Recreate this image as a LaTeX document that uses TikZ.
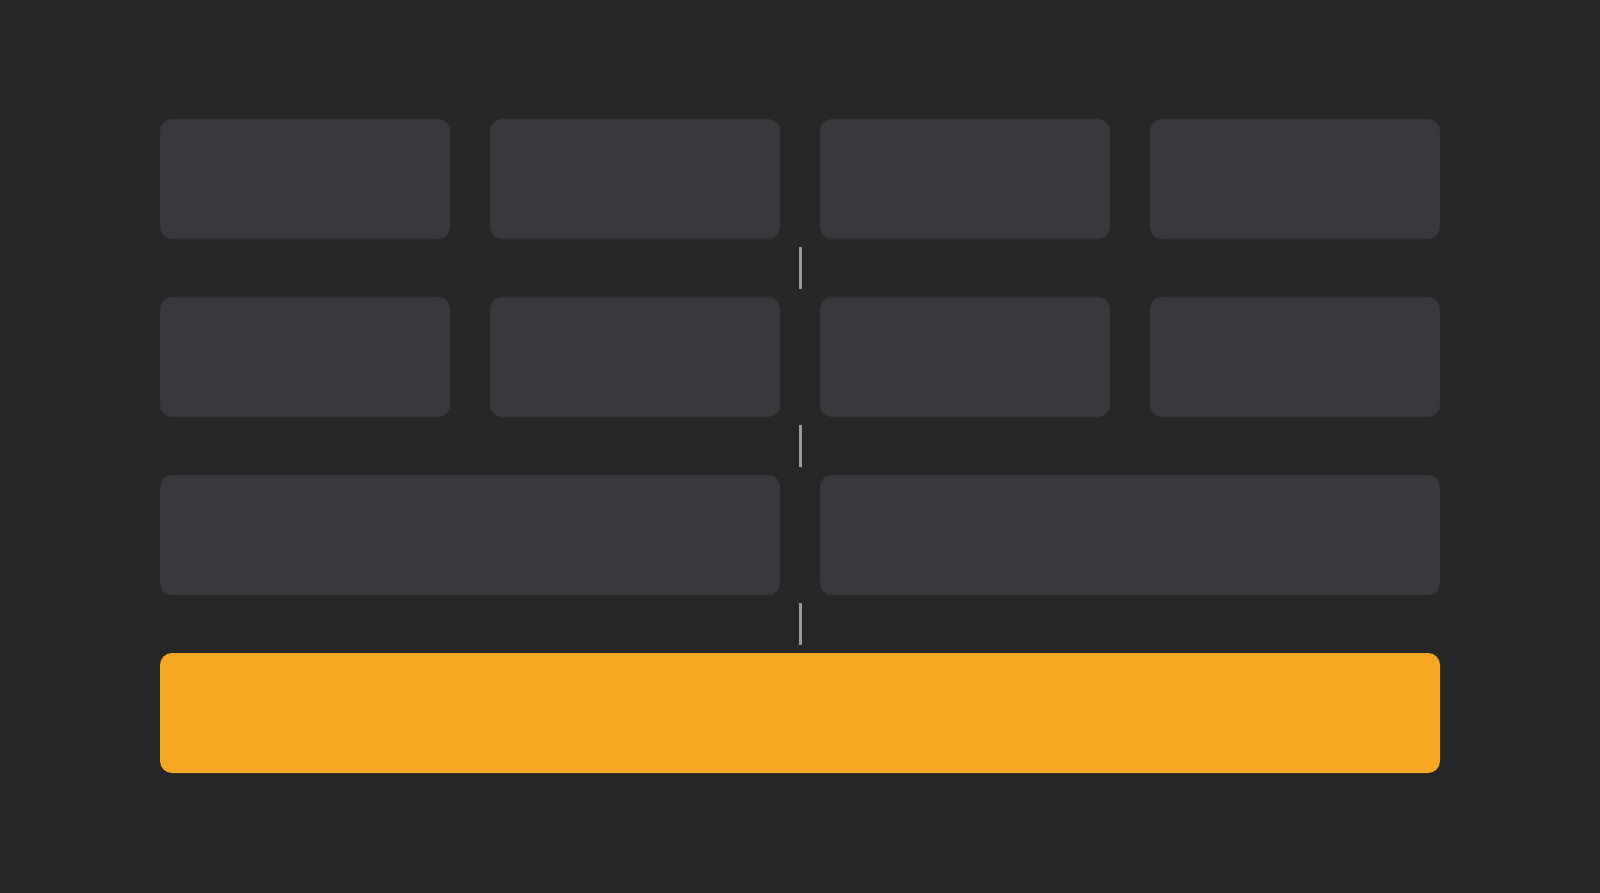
\documentclass[tikz,border=0pt]{standalone}
\definecolor{bgc}{HTML}{262628}
\definecolor{boxc}{HTML}{3A3A3E}
\definecolor{edgec}{HTML}{303033}
\definecolor{orangec}{HTML}{F5A623}
\definecolor{linkc}{HTML}{9A9A9E}
\tikzset{
  tile/.style={rectangle, rounded corners=12pt, inner sep=0pt, fill=boxc, draw=edgec, line width=0.8pt, minimum height=120pt},
  small/.style={tile, minimum width=290pt},
  wide/.style={tile, minimum width=620pt},
  base/.style={rectangle, rounded corners=12pt, inner sep=0pt, fill=orangec, minimum height=120pt, minimum width=1280pt},
  link/.style={draw=linkc, line width=3pt},
}
\begin{document}
\begin{tikzpicture}[x=1pt,y=-1pt]
\fill[bgc] (0,0) rectangle (1600,893);
\useasboundingbox (0,0) rectangle (1600,893);
% row 1
\node[small] (a1) at (305,179) {};
\node[small] (a2) at (635,179) {};
\node[small] (a3) at (965,179) {};
\node[small] (a4) at (1295,179) {};
% row 2
\node[small] (b1) at (305,357) {};
\node[small] (b2) at (635,357) {};
\node[small] (b3) at (965,357) {};
\node[small] (b4) at (1295,357) {};
% row 3
\node[wide] (c1) at (470,535) {};
\node[wide] (c2) at (1130,535) {};
% row 4
\node[base] (d1) at (800,713) {};
% connectors
\coordinate (k1a) at (800,247); \coordinate (k1b) at (800,289);
\coordinate (k2a) at (800,425); \coordinate (k2b) at (800,467);
\coordinate (k3a) at (800,603); \coordinate (k3b) at (800,645);
\draw[link] (k1a) -- (k1b);
\draw[link] (k2a) -- (k2b);
\draw[link] (k3a) -- (k3b);
\end{tikzpicture}
\end{document}
